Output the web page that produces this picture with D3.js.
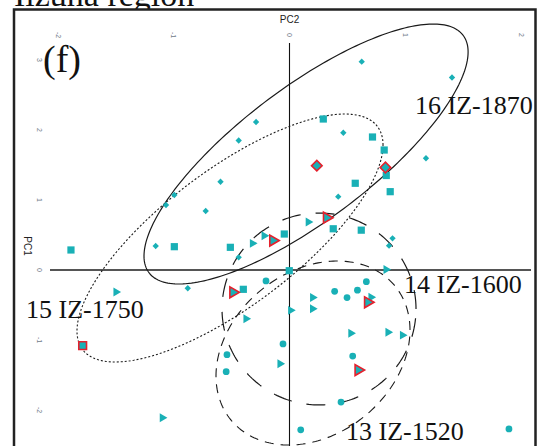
<!DOCTYPE html>
<html>
<head>
<meta charset="utf-8">
<script src="https://cdn.jsdelivr.net/npm/d3@7/dist/d3.min.js"></script>
<style>
  html, body { margin: 0; padding: 0; background: #fff; }
  svg { display: block; }
</style>
</head>
<body>
<svg id="chart" width="545" height="446"></svg>
<script>
// PCA biplot of the Iizuna region samples: PC2 across, PC1 up.
const xTicks = [-2, -1, 0, 1, 2];
const yTicks = [-2, -1, 0, 1, 2, 3];

// Sample scores as [PC2, PC1]
const diamonds = [
  [0.624, 2.976], [1.404, 2.750], [-0.289, 2.114], [0.465, 1.961], [-0.439, 1.850],
  [1.179, 1.596], [-0.596, 1.261], [0.421, 1.047], [-0.995, 1.071], [-1.067, 0.929],
  [-0.724, 0.843], [0.890, 0.453], [0.860, 0.347], [-1.156, 0.343], [-0.439, 0.181],
  [-0.879, -0.261]
];
const diamondsRef = [[0.236, 1.490], [0.829, 1.464]];

const squares = [
  [0.292, 2.157], [0.717, 1.900], [0.818, 1.714], [0.836, 1.350], [0.568, 1.239],
  [0.870, 1.119], [0.378, 0.589], [0.620, 0.569], [-0.045, 0.514], [-1.888, 0.286],
  [-0.995, 0.333], [-0.511, 0.324], [-0.002, -0.010], [-0.399, -0.276]
];
const squaresRef = [[-1.787, -1.081]];

const triangles = [
  [0.162, 0.686], [-0.219, 0.489], [-0.320, 0.381], [0.834, 0.007], [0.200, -0.393],
  [0.704, -0.390], [0.010, -0.576], [0.199, -0.554], [-0.376, -0.696], [0.530, -0.904],
  [0.851, -0.890], [0.976, -0.931], [-0.082, -1.339], [-1.099, -2.110], [-1.499, -0.314]
];
const trianglesRef = [[0.321, 0.747], [-0.143, 0.421], [-0.488, -0.319], [0.676, -0.461], [0.594, -1.429]];

const circles = [
  [-0.203, -0.157], [0.664, -0.167], [0.390, -0.304], [0.587, -0.289], [0.497, -0.393],
  [-0.056, -1.057], [-0.540, -1.210], [0.546, -1.229], [-0.547, -1.453], [0.445, -1.886],
  [0.097, -2.283], [1.896, -2.271]
];

// Group ellipses: centre [PC2, PC1], half-extents [PC2, PC1], correlation
const groupNames = ["13 IZ-1520", "14 IZ-1600", "15 IZ-1750", "16 IZ-1870"];
const groupCenters = [[0.203, -1.186], [0.255, -0.557], [-0.514, 0.457], [0.143, 1.657]];
const groupRadii = [[0.838, 1.314], [0.838, 1.371], [1.322, 1.771], [1.400, 1.857]];
const groupCorr = [0.25, 0.0, 0.75, 0.785];

const svg = d3.select("#chart");
const x = d3.scaleLinear().domain([-2, 2]).range([58, 521]);
const y = d3.scaleLinear().domain([-2, 3]).range([410, 60]);

const teal = "#19b0b6";
const red = "#e5202c";

// Figure title, partly hidden behind the panel frame
svg.append("text")
  .attr("x", 14).attr("y", 5.5)
  .attr("font-family", "Liberation Serif, Times New Roman, serif")
  .attr("font-size", 34)
  .attr("fill", "#111")
  .text("Iizuna region");

// Panel frame
svg.append("rect")
  .attr("x", 14).attr("y", 9.5)
  .attr("width", 521.5).attr("height", 470)
  .attr("fill", "#fff")
  .attr("stroke", "#222").attr("stroke-width", 2.5);

// Axis lines through the origin
svg.append("line")
  .attr("x1", 50).attr("x2", 531)
  .attr("y1", y(0)).attr("y2", y(0))
  .attr("stroke", "#555").attr("stroke-width", 2);
svg.append("line")
  .attr("x1", x(0)).attr("x2", x(0))
  .attr("y1", 43).attr("y2", 446)
  .attr("stroke", "#111").attr("stroke-width", 1.1);

// Rotated tick labels
const tickFont = "Liberation Sans, Arial, sans-serif";
svg.append("g").selectAll("text").data(xTicks).join("text")
  .attr("transform", d => `translate(${x(d)},35) rotate(90)`)
  .attr("text-anchor", "middle").attr("dy", "0.35em")
  .attr("font-family", tickFont).attr("font-size", 7)
  .attr("fill", "#6f7a88")
  .text(d => d);
svg.append("g").selectAll("text").data(yTicks).join("text")
  .attr("transform", d => `translate(39,${y(d)}) rotate(90)`)
  .attr("text-anchor", "middle").attr("dy", "0.35em")
  .attr("font-family", tickFont).attr("font-size", 7)
  .attr("fill", "#6f7a88")
  .text(d => d);

// Axis titles
svg.append("text")
  .attr("x", x(0)).attr("y", 23)
  .attr("text-anchor", "middle")
  .attr("font-family", tickFont).attr("font-size", 10)
  .attr("fill", "#222")
  .text("PC2");
svg.append("text")
  .attr("transform", "translate(27,246) rotate(90)")
  .attr("text-anchor", "middle").attr("dy", "0.35em")
  .attr("font-family", tickFont).attr("font-size", 10)
  .attr("fill", "#222")
  .text("PC1");

// Group ellipses, sampled in data space and projected through the scales
const ellipsePath = (c, r, rho) => {
  const pts = d3.range(0, 241).map(i => {
    const t = (i / 240) * 2 * Math.PI;
    const dx = r[0] * Math.cos(t);
    const dy = r[1] * (rho * Math.cos(t) + Math.sqrt(1 - rho * rho) * Math.sin(t));
    return [x(c[0] + dx), y(c[1] + dy)];
  });
  return d3.line().curve(d3.curveLinearClosed)(pts);
};
const ellipseStyles = [
  { dash: "9,7", width: 1.1 },
  { dash: "19,15", width: 1.2 },
  { dash: "2,2", width: 1.1 },
  { dash: null, width: 1.2 }
];
svg.append("g").selectAll("path").data(groupNames).join("path")
  .attr("d", (d, i) => ellipsePath(groupCenters[i], groupRadii[i], groupCorr[i]))
  .attr("fill", "none")
  .attr("stroke", "#1a1a1a")
  .attr("stroke-width", (d, i) => ellipseStyles[i].width)
  .attr("stroke-dasharray", (d, i) => ellipseStyles[i].dash);

// Markers
const marks = svg.append("g");
const drawSymbols = (data, type, size, rotate, stroke) => {
  marks.append("g").selectAll("path").data(data).join("path")
    .attr("d", d3.symbol().type(type).size(size))
    .attr("transform", d => `translate(${x(d[0])},${y(d[1])}) rotate(${rotate})`)
    .attr("fill", teal)
    .attr("stroke", stroke || "none")
    .attr("stroke-width", stroke ? 1.6 : 0);
};
drawSymbols(diamonds, d3.symbolSquare, 20, 45);
drawSymbols(squares, d3.symbolSquare, 52, 0);
drawSymbols(triangles, d3.symbolTriangle, 34, 90);
drawSymbols(circles, d3.symbolCircle, 36, 0);
drawSymbols(diamondsRef, d3.symbolSquare, 56, 45, red);
drawSymbols(squaresRef, d3.symbolSquare, 60, 0, red);
drawSymbols(trianglesRef, d3.symbolTriangle, 52, 90, red);

// Panel letter and group labels
const serif = "Liberation Serif, Times New Roman, serif";
svg.append("text")
  .attr("x", 43).attr("y", 72)
  .attr("font-family", serif).attr("font-size", 38)
  .attr("fill", "#111")
  .text("(f)");
const labelPos = [[346, 440], [404, 293], [26, 318], [415, 113.5]];
svg.append("g").selectAll("text").data(groupNames).join("text")
  .attr("x", (d, i) => labelPos[i][0])
  .attr("y", (d, i) => labelPos[i][1])
  .attr("font-family", serif).attr("font-size", 26)
  .attr("fill", "#111")
  .text(d => d);
</script>
</body>
</html>
